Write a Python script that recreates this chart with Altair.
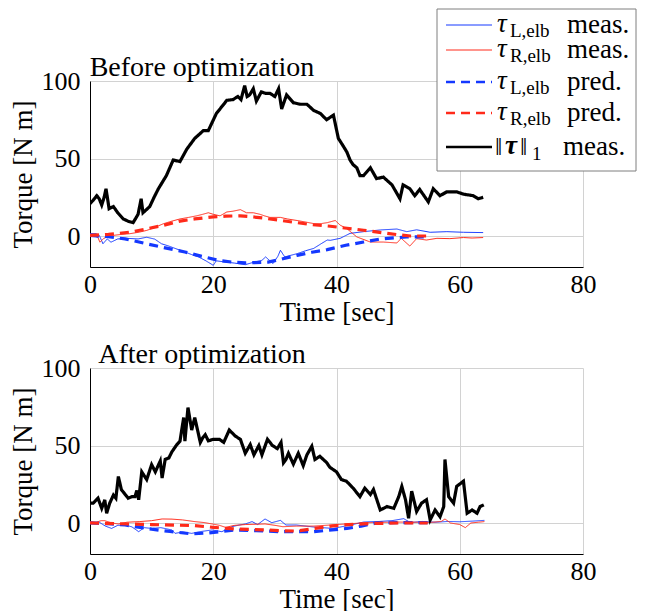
import altair as alt
import pandas as pd

# ---------------- data ----------------
# Top panel: "Before optimization"
top_norm_t = [0, 0.5, 1.1, 1.5, 1.9, 2.3, 2.6, 3.1, 3.8, 4.5, 5.4, 6.2, 7.0, 7.8, 8.3, 8.6, 9.7, 10.4, 11.1, 12.4,
              13.5, 14.6, 15.7, 17, 18.4, 19.2, 20.5, 21.3, 22.2, 23.2, 24, 24.5, 25.1, 25.5, 25.9, 26.5, 27, 27.8,
              28.5, 29.2, 30, 30.6, 31.1, 31.9, 33, 34.1, 35.2, 36.3, 37.4, 38.4, 39.5, 40.3, 41.1, 41.7, 42.2,
              42.7, 43.3, 43.8, 44.4, 45.5, 46.5, 47.6, 49, 50.3, 50.8, 51.9, 52.7, 53.5, 54.9, 55.7, 56.8, 57.9,
              59.5, 60.6, 62.2, 63, 63.8]
top_norm_v = [20.8, 23, 26, 24, 20, 25, 30.5, 17.6, 19, 15, 11, 9.5, 8.6, 14, 24, 15, 19, 25, 30.5, 39,
              49, 48, 56, 63, 68, 68, 79, 83, 87.5, 88, 90, 88, 97, 90, 91, 95, 87, 93,
              92, 92, 90, 95, 82, 91, 86, 85, 85, 81, 79, 75, 78, 63, 58, 54, 49,
              46, 44, 39, 39, 44, 37, 38, 33, 24, 33, 30.5, 26, 30, 22, 30.5, 26, 28.5,
              28.5, 27, 26, 24, 25]

top_Lmeas_t = [0, 1, 1.5, 2.1, 2.8, 3.4, 4.5, 6, 7.8, 9.2, 10.5, 11.6, 12.8, 13.8, 15.4, 16.5, 17.6, 18.8, 20,
               20.5, 21.9, 23.5, 25.2, 26.5, 27.9, 28.5, 29.7, 30.5, 30.9, 31.6, 33.6, 35, 36.3, 37.5, 38.5, 39,
               40.6, 42.2, 44.4, 47.1, 49.8, 51.4, 53, 55.2, 57.9, 60.6, 63.8]
top_Lmeas_v = [1.5, 1.5, 0.5, -5, -1.9, -4, -1.9, -1.5, -1.9, -0.8, -2, -5, -6.5, -8, -10.3, -12, -13.5, -16, -18.9,
               -16, -16.8, -17.5, -18.5, -17, -15.7, -13.5, -17.8, -13, -9.2, -13.5, -11.4, -9.5, -8, -5, -2.6, -2.8,
               -1.5, 1.7, 2.8, 3.9, 4.5, 2.8, 4, 2.4, 2.8, 2.4, 2.2]

top_Rmeas_t = [0, 0.8, 1.3, 1.6, 2.2, 3, 3.8, 5, 6.5, 8, 9.2, 10.5, 11.9, 13.2, 14.6, 16, 17.3, 18.3, 19.2, 20,
               21.1, 22.2, 23.2, 24.4, 25.4, 26.5, 27.6, 28.3, 29.2, 30.9, 32, 33.6, 35, 36.3, 37.5, 38.5, 39.8,
               40.6, 41.7, 43.3, 45.5, 47.6, 49.8, 50.5, 51.9, 53, 54.6, 56.3, 58.4, 60.6, 62, 63.8]
top_Rmeas_v = [0.4, 0, -1, -4, -1.7, 0, 0.4, 1, 1.5, 2.5, 3.6, 5.5, 7.9, 9.5, 11, 12, 13, 14, 15, 14,
               13, 15.5, 16, 17, 15, 15, 14, 13, 12, 12, 11, 10, 9, 8, 8, 8.6, 10,
               7, 4.7, -0.6, -3.9, -3.9, -4.5, -1.5, -6.5, -1.7, -2.6, -1.5, -1.7, -1, -1.3, -1]

top_Lpred_t = [0, 3, 5.7, 9.2, 12, 15.4, 18, 20.8, 23, 25.2, 28.9, 31, 33.6, 36, 38.5, 41.5, 44.4, 47, 51.4, 54.9]
top_Lpred_v = [0.4, -0.5, -1.9, -5, -7.5, -10.3, -13, -15.7, -16.8, -17.4, -16.8, -15, -12.5, -10.5, -8.8, -6,
               -3.9, -2, -0.6, -0.6]

top_Rpred_t = [0, 3, 6.5, 9.2, 12, 14.6, 17, 20, 22, 24.4, 26, 28.1, 31, 33.6, 36, 39, 41.7, 44.4, 47, 49.8, 52,
               54.9]
top_Rpred_v = [0.4, 1, 2.5, 4.6, 7, 9.6, 11, 12.3, 12.8, 13, 12.5, 11.6, 10, 8.6, 7.3, 6.3, 5, 3.7, 2.3, 0.9, 0,
               0]

# Bottom panel: "After optimization"
bot_norm_t = [0, 0.5, 1.3, 1.9, 2.4, 2.7, 3.2, 3.8, 4.2, 4.6, 5.1, 5.6, 6.2, 6.8, 7.3, 7.6, 7.9, 8.4, 9.2, 10,
              10.6, 11.4, 11.7, 12.2, 12.8, 13.3, 14.1, 14.6, 15.2, 15.4, 15.9, 16.5, 17, 17.9, 18.3, 18.7, 19.2,
              20, 21, 21.7, 22.6, 23.1, 23.6, 24.4, 25.2, 26, 26.6, 27.4, 27.9, 28.8, 29.6, 30.4, 31, 31.4, 31.8,
              32.2, 33, 33.8, 34.6, 35.2, 36, 36.5, 37.3, 38.4, 38.9, 40, 40.8, 41.6, 42.7, 43.8, 44.6, 45.5, 46,
              47.1, 48.2, 49.3, 50.1, 50.6, 51.2, 51.7, 52.2, 53, 53.8, 54.6, 55.2, 56, 56.8, 57.4, 57.6, 58.2,
              59, 59.5, 60.6, 61.2, 62, 62.8, 63.3, 63.9]
bot_norm_v = [12.8, 12.8, 16, 9.5, 14.9, 6.3, 12.8, 18, 16, 30, 21.4, 19, 16, 17, 17, 21, 15, 33, 28, 37.7,
              33, 40, 29, 41, 42, 46, 50.6, 52.8, 68, 52.8, 74.5, 60, 68, 52, 55, 57, 53,
              54, 54, 52, 60, 58, 56, 54, 45, 50.6, 44, 50, 44, 54, 50, 48, 52, 38.8, 41,
              45, 38, 45, 37, 44, 49.5, 41, 43, 39, 36, 33, 28, 27, 22.5, 17, 22.5, 18.4, 21.6,
              8.4, 10.6, 9.5, 17, 23.6, 15, 3, 20.6, 7.4, 12.8, 15, 2, 8.4, 4, 10.6, 41, 17,
              12.8, 23.6, 27, 6.3, 8.4, 6.3, 10.6, 11.7]

bot_Lmeas_t = [0, 1.5, 2.5, 3.5, 4.5, 5.7, 6.8, 7.9, 8.8, 10, 11.5, 13.3, 13.8, 15, 16.5, 18, 19.8, 21.4, 23, 24,
               25.2, 26.3, 27.2, 28.4, 29.5, 30.9, 31.8, 33.5, 36.3, 39.5, 42, 44.4, 47, 49, 50.9, 52, 54, 56,
               58.1, 60, 62, 64]
bot_Lmeas_v = [0.2, 0.5, -2, -3.5, -1.5, -1.3, -2.5, -5.6, -3, -3.5, -3, -4.5, -6.7, -5.8, -6.7, -5.5, -4.5, -5.6,
               -2.4, -1.5, -0.6, 0.9, -1, 2.6, 0.2, 1.7, -1.3, -1.3, -2.6, -3.5, -1.5, 0.6, 1, 1.5, 2.8, 0.3, 1,
               0.5, 1, 0.8, 1.2, 1.7]

bot_Rmeas_t = [0, 1, 1.8, 2.4, 3.5, 4.6, 6, 8, 10, 11.7, 13.3, 15, 17, 18.5, 19.8, 21, 22, 23.5, 25.2, 27, 28.4,
               30, 31.3, 33.5, 36.3, 39, 41.7, 44, 46, 50, 53, 55, 57, 57.6, 58.5, 60, 60.9, 61.8, 63, 64]
bot_Rmeas_v = [0.9, 0.5, 1.5, 1.5, 0, -0.6, 0.5, 0.9, 1.5, 2.6, 2.5, 2, 0.9, 0.3, -0.6, -1.5, -2.8, -1.5, -1, -0.8,
               -0.6, -1.5, -2.4, -2, -2, -1.3, -0.6, 0, 0.3, 0.6, 0.5, 0.3, 1, 2.6, 0, -1, -3, 0, 0.5, 0.9]

bot_Lpred_t = [0, 3, 5.7, 10, 13, 16.5, 19, 21, 23.6, 27, 31.2, 36.3, 41.7, 44, 46.5, 50, 54.8]
bot_Lpred_v = [0, -0.5, -1.3, -4, -5.5, -7, -6.5, -5.6, -4.5, -5, -5.6, -5.6, -3.5, -2, 0, 0.3, 0.3]

bot_Rpred_t = [0, 5, 10, 17, 20, 23.6, 28.7, 31.2, 33.5, 36.5, 39.5, 42, 46, 50, 54.8]
bot_Rpred_v = [0, -0.5, -1, -1.7, -2.8, -3.9, -4.5, -5, -5.2, -3.5, -1.8, -1, -0.3, 0, 0]

x_ticks = [0, 20, 40, 60, 80]
y_ticks = [0, 50, 100]
panel_titles = ["Before optimization", "After optimization"]
legend_subs = ["L,elb", "R,elb", "L,elb", "R,elb"]
legend_words = ["meas.", "meas.", "pred.", "pred.", "meas."]

# ---------------- styles ----------------
FONT = "Liberation Serif"
BLUE = "#1438ff"
RED = "#ff2a1a"
BLACK = "#000000"
series_style = [  # (color, dash, width) in drawing order: L meas, R meas, L pred, R pred, norm meas
    (BLUE, [1, 0], 1.0),
    (RED, [1, 0], 1.0),
    (BLUE, [9, 6], 3.2),
    (RED, [9, 6], 3.2),
    (BLACK, [1, 0], 3.2),
]

W, H = 493, 186

x_enc = alt.X("t:Q", scale=alt.Scale(domain=[0, 80], nice=False),
              axis=alt.Axis(values=x_ticks, title="Time [sec]"))
y_enc = alt.Y("v:Q", scale=alt.Scale(domain=[-20, 100], nice=False),
              axis=alt.Axis(values=y_ticks, title="Torque [N m]"))

one = pd.DataFrame({"a": [0]})


def panel(series, title, with_legend=False):
    layers = []
    for (t, v), (col, dash, sw) in zip(series, series_style):
        df = pd.DataFrame({"t": t, "v": v})
        layers.append(
            alt.Chart(df).mark_line(color=col, strokeDash=dash, strokeWidth=sw, clip=True)
            .encode(x=x_enc, y=y_enc)
        )
    # panel title drawn as text so that it sits just above the plot area
    layers.append(alt.Chart(one).mark_text(align="center", baseline="alphabetic", font=FONT, fontSize=28,
                                           color="black").encode(
        x=alt.value(112), y=alt.value(-5), text=alt.value(title)))
    if with_legend:
        layers += legend_layers()
    return alt.layer(*layers).properties(width=W, height=H)


def legend_layers():
    base = alt.Chart(one)
    # box (relative to the top panel's plot origin)
    bx0, bx1, by0, by1 = 347, 546, -72, 90
    out = [base.mark_rect(fill="white", stroke="#7f7f7f", strokeWidth=1).encode(
        x=alt.value(bx0), x2=alt.value(bx1), y=alt.value(by0), y2=alt.value(by1))]
    rows = [-56, -31, 1, 32, 66]
    for i, (ry, (col, dash, sw)) in enumerate(zip(rows, series_style)):
        out.append(base.mark_rule(color=col, strokeDash=dash, strokeWidth=min(sw, 2.6)).encode(
            x=alt.value(356), x2=alt.value(402), y=alt.value(ry)))
        if i < 4:
            out.append(base.mark_text(align="left", baseline="middle", font=FONT, fontSize=27,
                                      fontStyle="italic", color="black").encode(
                x=alt.value(407), y=alt.value(ry - 1), text=alt.value("τ")))
            out.append(base.mark_text(align="left", baseline="middle", font=FONT, fontSize=19,
                                      color="black").encode(
                x=alt.value(420), y=alt.value(ry + 6), text=alt.value(legend_subs[i])))
            out.append(base.mark_text(align="left", baseline="middle", font=FONT, fontSize=27,
                                      color="black").encode(
                x=alt.value(477), y=alt.value(ry), text=alt.value(legend_words[i])))
        else:
            out.append(base.mark_text(align="left", baseline="middle", font=FONT + ", DejaVu Serif",
                                      fontSize=26, color="black").encode(
                x=alt.value(405), y=alt.value(ry), text=alt.value("‖")))
            out.append(base.mark_text(align="left", baseline="middle", font=FONT, fontSize=27,
                                      fontStyle="italic", fontWeight="bold", color="black").encode(
                x=alt.value(415), y=alt.value(ry - 1), text=alt.value("τ")))
            out.append(base.mark_text(align="left", baseline="middle", font=FONT + ", DejaVu Serif",
                                      fontSize=26, color="black").encode(
                x=alt.value(430), y=alt.value(ry), text=alt.value("‖")))
            out.append(base.mark_text(align="left", baseline="middle", font=FONT, fontSize=19,
                                      color="black").encode(
                x=alt.value(442), y=alt.value(ry + 7), text=alt.value("1")))
            out.append(base.mark_text(align="left", baseline="middle", font=FONT, fontSize=27,
                                      color="black").encode(
                x=alt.value(473), y=alt.value(ry), text=alt.value(legend_words[i])))
    return out


top = panel([(top_Lmeas_t, top_Lmeas_v), (top_Rmeas_t, top_Rmeas_v), (top_Lpred_t, top_Lpred_v),
             (top_Rpred_t, top_Rpred_v), (top_norm_t, top_norm_v)], panel_titles[0], with_legend=True)
bot = panel([(bot_Lmeas_t, bot_Lmeas_v), (bot_Rmeas_t, bot_Rmeas_v), (bot_Lpred_t, bot_Lpred_v),
             (bot_Rpred_t, bot_Rpred_v), (bot_norm_t, bot_norm_v)], panel_titles[1])

chart = alt.vconcat(top, bot, spacing=14).properties(padding=0).configure_view(
    stroke="transparent"
).configure_axis(
    domainColor="black", domainWidth=1, gridColor="#d2d2d2", gridWidth=1,
    tickSize=0, labelFont=FONT, labelFontSize=26, labelColor="black",
    labelFlush=False, labelOverlap=False,
    titleFont=FONT, titleFontSize=27, titleFontWeight="normal", titleColor="black",
).configure_axisX(labelPadding=4, titlePadding=2).configure_axisY(labelPadding=10, titlePadding=4)

chart.save("out.html", embed_options={"renderer": "svg", "actions": False})
